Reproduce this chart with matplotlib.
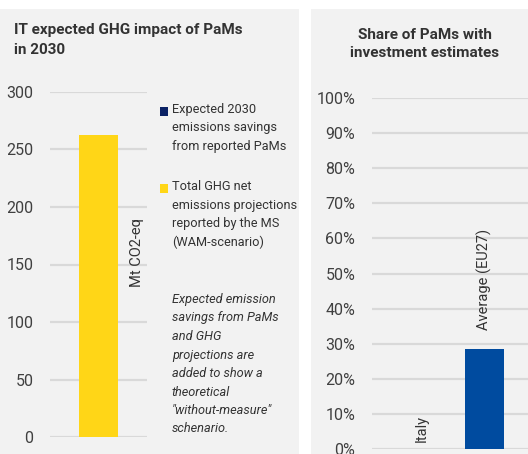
import matplotlib
matplotlib.use('Agg')
import matplotlib.pyplot as plt
from matplotlib.patches import Rectangle

plt.rcParams['font.family'] = ['Roboto', 'DejaVu Sans']

# data
ghg_categories = ['IT']
ghg_projection = [263]          # Mt CO2-eq, total GHG net projections (WAM)
ghg_savings = [0]               # expected 2030 savings from reported PaMs
share_categories = ['Italy', 'Average (EU27)']
share_values = [0.0, 0.285]
share_ticks = [0, 0.1, 0.2, 0.3, 0.4, 0.5, 0.6, 0.7, 0.8, 0.9, 1.0]
share_ticklabels = ['0%', '10%', '20%', '30%', '40%', '50%', '60%', '70%', '80%', '90%', '100%']
ghg_ticks = [0, 50, 100, 150, 200, 250, 300]

W, H = 528, 454
BG = '#f2f2f2'
GRID = '#d9d9d9'
TXT = '#404040'
YELLOW = '#FFD617'
NAVY = '#0b2265'
BLUE = '#004b9f'


def fx(x):
    return x / W


def fy(y):
    return 1 - y / H


fig = plt.figure(figsize=(W / 100, H / 100), dpi=100)
fig.patch.set_facecolor('white')

# panel backgrounds
fig.patches.append(Rectangle((0, 0), fx(299), fy(9), transform=fig.transFigure,
                             facecolor=BG, edgecolor='none', zorder=-10))
fig.patches.append(Rectangle((fx(311), 0), 1 - fx(311), fy(9), transform=fig.transFigure,
                             facecolor=BG, edgecolor='none', zorder=-10))


def style_axes(ax):
    ax.set_facecolor(BG)
    ax.patch.set_alpha(0)
    for s in ax.spines.values():
        s.set_visible(False)
    ax.tick_params(length=0, pad=12, labelsize=11.5, labelcolor=TXT)
    ax.set_xticks([])
    ax.yaxis.grid(True, color=GRID, linewidth=1.6)
    ax.set_axisbelow(True)


# left panel: GHG impact
ax1 = fig.add_axes([fx(50), fy(437), fx(147) - fx(50), fy(92) - fy(437)])
style_axes(ax1)
ax1.bar(range(len(ghg_categories)), ghg_projection, width=0.6, color=YELLOW)
ax1.bar(range(len(ghg_categories)), ghg_savings, width=0.6, bottom=ghg_projection, color=NAVY)
ax1.set_xlim(-0.746, 0.746)
ax1.set_ylim(0, 300)
ax1.set_yticks(ghg_ticks)
ax1.set_yticklabels([str(t) for t in ghg_ticks])

fig.text(fx(14), fy(40), 'IT expected GHG impact of PaMs\nin 2030', ha='left', va='center',
         fontsize=11, fontweight='bold', color='#333333', linespacing=1.5)
fig.text(fx(137), fy(253), 'Mt CO2-eq', rotation=90, ha='center', va='center',
         fontsize=10.5, color='#333333')

# legend
fig.patches.append(Rectangle((fx(160), fy(116)), fx(8), 9 / H, transform=fig.transFigure,
                             facecolor=NAVY, edgecolor='none'))
fig.text(fx(172), fy(103), 'Expected 2030\nemissions savings\nfrom reported PaMs', ha='left', va='top',
         fontsize=9.2, color='#333333', linespacing=1.55)
fig.patches.append(Rectangle((fx(160), fy(193)), fx(8), 9 / H, transform=fig.transFigure,
                             facecolor=YELLOW, edgecolor='none'))
fig.text(fx(172), fy(180), 'Total GHG net\nemissions projections\nreported by the MS\n(WAM-scenario)',
         ha='left', va='top', fontsize=9.2, color='#333333', linespacing=1.55)
fig.text(fx(172), fy(293), 'Expected emission\nsavings from PaMs\nand GHG\nprojections are\nadded to show a\n'
         'theoretical\n"without-measure"\nschenario.', ha='left', va='top', fontsize=9.2,
         style='italic', color='#333333', linespacing=1.55)

# right panel: share of PaMs
ax2 = fig.add_axes([fx(372), fy(449), 1 - fx(372), fy(98) - fy(449)])
style_axes(ax2)
xs = range(len(share_categories))
ax2.bar(xs, share_values, width=0.62, color=BLUE)
ax2.set_xlim(-0.8, 1.7)
ax2.set_ylim(0, 1)
ax2.set_yticks(share_ticks)
ax2.set_yticklabels(share_ticklabels)
offsets = [5, 14]
for i, (lab, v) in enumerate(zip(share_categories, share_values)):
    ax2.annotate(lab, (i, v), xytext=(0, offsets[i]), textcoords='offset points',
                 rotation=90, ha='center', va='bottom', fontsize=10.5, color='#333333')

fig.text(fx(425), fy(44), 'Share of PaMs with\ninvestment estimates', ha='center', va='center',
         fontsize=11, fontweight='bold', color='#333333', linespacing=1.45)

fig.savefig('out.png', dpi=100)
